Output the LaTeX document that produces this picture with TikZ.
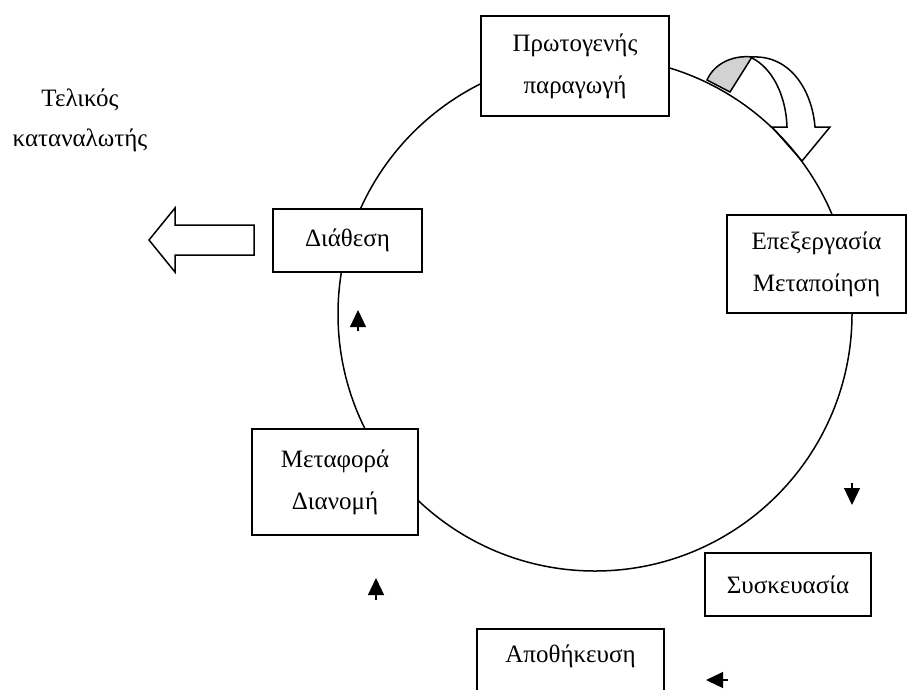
\documentclass[tikz,border=0pt]{standalone}
\usepackage{fontspec}
\setmainfont{Liberation Serif}
\usetikzlibrary{arrows.meta,positioning}

\tikzset{
  stage/.style={draw,line width=1.8pt,fill=white,align=center,
    font=\fontsize{25}{42}\selectfont,inner sep=0pt},
  pointer/.style={-{Triangle[length=17pt,width=16pt]},line width=1.2pt},
}

\begin{document}
\begin{tikzpicture}[x=1pt,y=-1pt,line width=1.5pt]
  \useasboundingbox (0,0) rectangle (907,689);

  % the cycle
  \coordinate (centre) at (595,314);
  \draw (centre) circle (257);

  % stages on the cycle
  \node[stage,minimum width=188,minimum height=100] (prod) at (575,66) {Πρωτογενής\\παραγωγή};
  \node[stage,minimum width=179,minimum height=98] (proc) at (816.5,264) {Επεξεργασία\\Μεταποίηση};
  \node[stage,minimum width=166,minimum height=63] (pack) at (788,584.5) {Συσκευασία};
  \node[stage,minimum width=187,anchor=north,inner ysep=16pt] (store) at (570.5,628) {Αποθήκευση\\\mbox{}};
  \node[stage,minimum width=166,minimum height=106] (trans) at (335,482) {Μεταφορά\\Διανομή};
  \node[stage,minimum width=149,minimum height=63] (sale) at (347.5,240.5) {Διάθεση};
  \node[align=center,font=\fontsize{25}{40}\selectfont] (user) at (80,120) {Τελικός\\καταναλωτής};

  % hollow arrow towards the consumer
  \draw (254,225) -- (175,225) -- (175,208) -- (149,240) -- (175,272) -- (175,255) -- (254,255) -- cycle;

  % curved arrow at the top
  \filldraw[fill=gray!35] (707,80) -- (730,92) -- (752,57) .. controls (735,55) and (715,62) .. (707,80) -- cycle;
  \draw (752,57) .. controls (790,55) and (812,90) .. (815,127) -- (830,127) -- (802,161)
    -- (772,127) -- (787,127) .. controls (786,95) and (772,68) .. (752,58);

  % small direction marks
  \coordinate (m1) at (358,331);
  \coordinate (m2) at (852,483);
  \coordinate (m3) at (728,680);
  \coordinate (m4) at (376,600);
  \draw[pointer] (m1) -- ++(0,-21);
  \draw[pointer] (m2) -- ++(0,22);
  \draw[pointer] (m3) -- ++(-22,0);
  \draw[pointer] (m4) -- ++(0,-22);
\end{tikzpicture}
\end{document}
